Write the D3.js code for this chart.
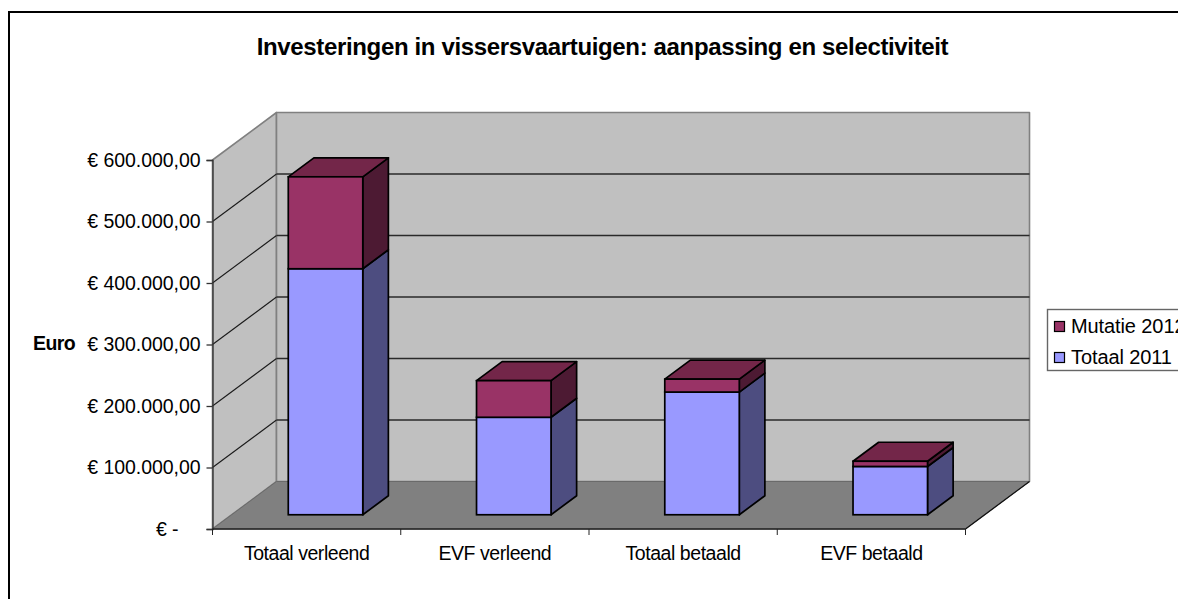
<!DOCTYPE html>
<html><head><meta charset="utf-8"><script src="https://cdn.jsdelivr.net/npm/d3@7"></script>
<style>html,body{margin:0;background:#fff;overflow:hidden}svg{display:block}text{font-family:"Liberation Sans",Arial,sans-serif;fill:#000}</style></head>
<body><svg id="c" width="1178" height="599"></svg>
<script>
const categories=["Totaal verleend","EVF verleend","Totaal betaald","EVF betaald"];
const totaal2011=[400000,158500,199500,78500];
const mutatie2012=[149500,59500,21000,8500];
const tickValues=[0,100000,200000,300000,400000,500000,600000];
const titleText="Investeringen in vissersvaartuigen: aanpassing en selectiviteit";
const axisTitle="Euro";
const legendLabels=["Mutatie 2012","Totaal 2011"];

const svg=d3.select("#c");
const x0=212.5,x1=965.5,yB=529,yT=160,dx=64,dy=-47.5;
const x=d3.scaleBand().domain(categories).range([x0,x1]).paddingInner(0).paddingOuter(0);
const y=d3.scaleLinear().domain([0,600000]).range([yB,yT]);
const P=(px,py,d)=>[px+dx*d,py+dy*d];
const poly=(pts,fill,stroke,sw)=>svg.append("path").attr("d",d3.line()(pts)+"Z").attr("fill",fill).attr("stroke",stroke||"none").attr("stroke-width",sw||1).attr("stroke-linejoin","round");
const seg=(a,b,stroke,sw)=>svg.append("line").attr("x1",a[0]).attr("y1",a[1]).attr("x2",b[0]).attr("y2",b[1]).attr("stroke",stroke).attr("stroke-width",sw||1);

// frame
svg.append("rect").attr("x",9).attr("y",12).attr("width",1300).attr("height",700).attr("fill","#fff").attr("stroke","#000").attr("stroke-width",2);

// walls
poly([P(x0,yB,0),P(x0,yT,0),P(x0,yT,1),P(x0,yB,1)],"#C0C0C0","#808080",1.6);
poly([P(x0,yB,1),P(x0,yT,1),P(x1,yT,1),P(x1,yB,1)],"#C0C0C0","#808080",1.6);
poly([P(x0,yB,0),P(x0,yB,1),P(x1,yB,1),P(x1,yB,0)],"#808080","#6a6a6a",1);

// gridlines
tickValues.slice(1,-1).forEach(v=>{
  const py=y(v);
  seg(P(x0,py,0),P(x0,py,1),"#1a1a1a",1.1);
  seg(P(x0,py,1),P(x1,py,1),"#2a2a2a",1.4);
});
seg(P(x1,yB,0),P(x1,yB,1),"#111",1.3);

// axes
const fmtEuro=d3.formatLocale({decimal:",",thousands:".",grouping:[3],currency:["€ ",""]}).format("$,.2f");
const yAxis=d3.axisLeft(y).tickValues(tickValues).tickSize(6).tickPadding(6).tickFormat(v=>v===0?"€ -":fmtEuro(v));
const ga=svg.append("g").attr("transform",`translate(${x0},0)`).call(yAxis);
ga.selectAll("text").attr("font-size",19.5).attr("letter-spacing",-0.05);
ga.selectAll("text").filter(d=>d===0).attr("x",-34);
ga.selectAll("line,path").attr("stroke","#333").attr("stroke-width",1.3);
const xAxis=d3.axisBottom(x).tickSize(0).tickPadding(0);
const gx=svg.append("g").attr("transform",`translate(0,${yB})`).call(xAxis);
gx.selectAll("text").attr("font-size",19.5).attr("letter-spacing",-0.45).attr("y",30.5).attr("dy",0);
gx.select("path").attr("stroke","#222").attr("stroke-width",1.6).attr("d",`M${x0},0H${x1}`);
gx.selectAll("line").remove();
[...categories.map(c=>x(c)),x1].forEach(t=>seg([t,yB],[t,yB+6],"#222",1));

// bars
const d0=0.3,d1=0.7,bw=74.5;
const base=y(0)+dy*d0;
const h=v=>y(0)-y(v);
function bar(i,vFrom,vTo,front,side,top,showTop){
  const bx=x(categories[i])+x.bandwidth()/2-bw/2+dx*d0-0.3;
  const l=bx,r=bx+bw,b=base-h(vFrom),t=base-h(vTo);
  const ox=dx*(d1-d0),oy=dy*(d1-d0);
  const st="#000";
  poly([[r,b],[r,t],[r+ox,t+oy],[r+ox,b+oy]],side,st,1.7);
  if(showTop)poly([[l,t],[r,t],[r+ox,t+oy],[l+ox,t+oy]],top,st,1.7);
  svg.append("rect").attr("x",l).attr("y",t).attr("width",bw).attr("height",b-t).attr("fill",front).attr("stroke",st).attr("stroke-width",1.7);
}
categories.forEach((c,i)=>{
  bar(i,0,totaal2011[i],"#9999FF","#4D4D80","#7373BF",false);
  bar(i,totaal2011[i],totaal2011[i]+mutatie2012[i],"#993366","#4D1A33","#732649",true);
});

// title
svg.append("text").attr("x",602.5).attr("y",54.5).attr("text-anchor","middle").attr("font-size",24).attr("font-weight","bold").attr("letter-spacing",-0.35).text(titleText);
svg.append("text").attr("x",33).attr("y",350).attr("font-size",19.5).attr("font-weight","bold").attr("letter-spacing",-0.6).text(axisTitle);

// legend
svg.append("rect").attr("x",1047.5).attr("y",309.5).attr("width",200).attr("height",61).attr("fill","#fff").attr("stroke","#666").attr("stroke-width",1.4);
legendLabels.forEach((t,i)=>{
  const yy=321+i*31;
  svg.append("rect").attr("x",1054.5).attr("y",yy+.5).attr("width",10).attr("height",10).attr("fill",i?"#9999FF":"#993366").attr("stroke","#000").attr("stroke-width",1.2);
  svg.append("text").attr("x",1071).attr("y",yy+11.5).attr("font-size",20).attr("letter-spacing",-0.1).text(t);
});
</script></body></html>
